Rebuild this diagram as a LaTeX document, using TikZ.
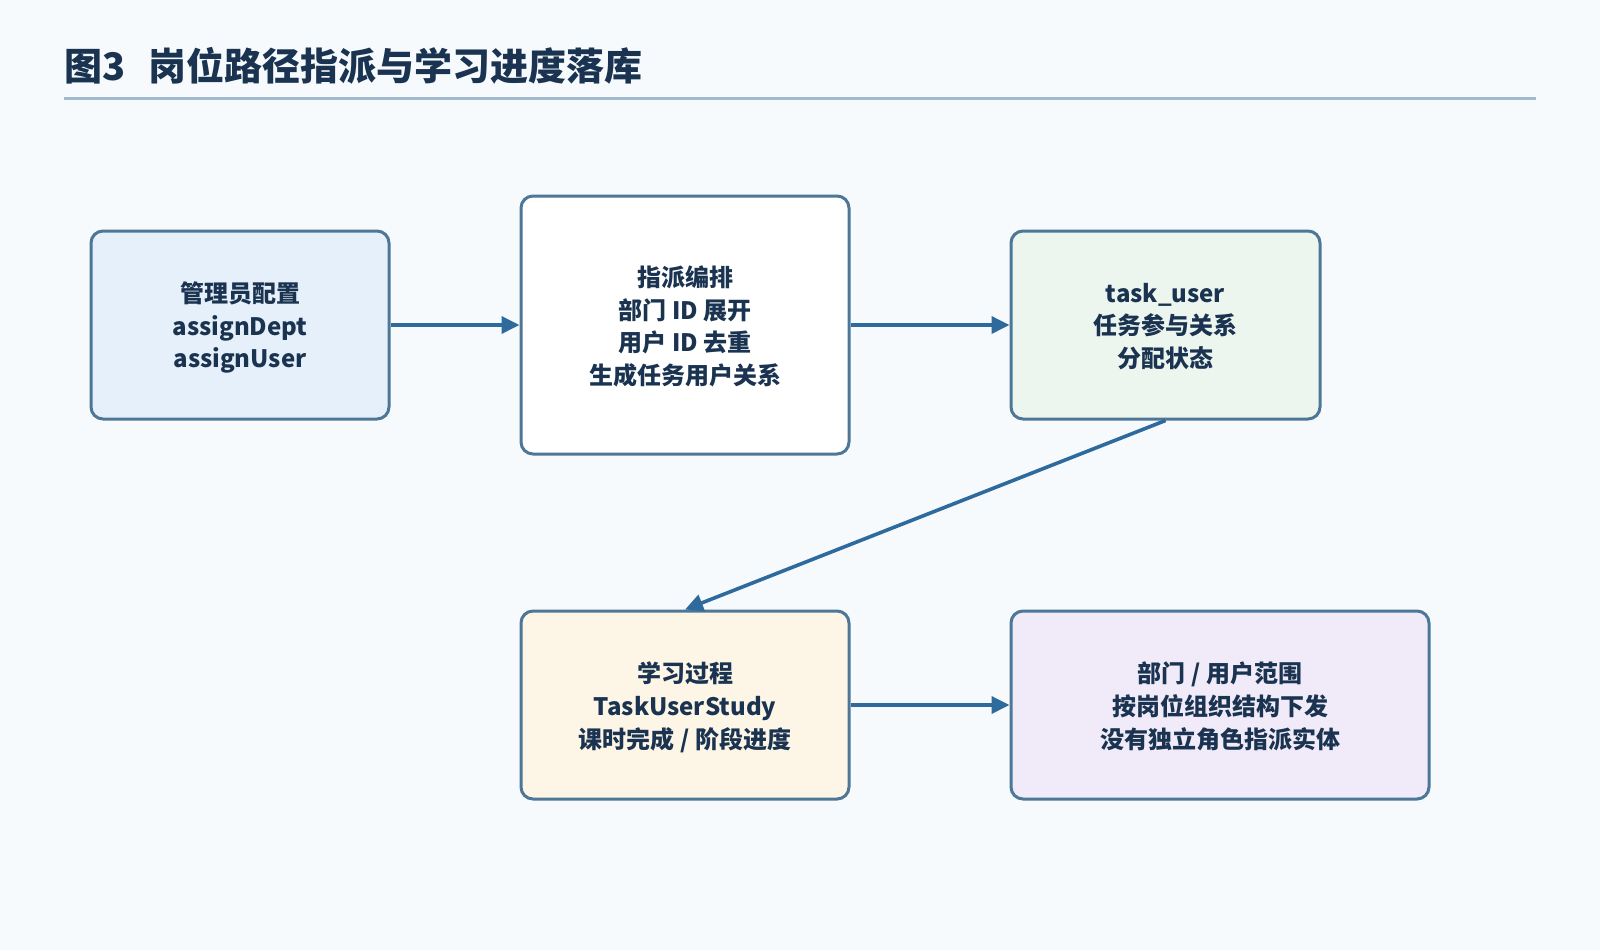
\documentclass[tikz,border=0pt]{standalone}
\usepackage{fontspec}
\setmainfont{Noto Sans CJK SC}
\usetikzlibrary{arrows.meta}
\definecolor{bgc}{HTML}{F6FAFC}
\definecolor{bordc}{HTML}{4E7797}
\definecolor{arrc}{HTML}{2E6B9C}
\definecolor{txtc}{HTML}{1A3350}
\definecolor{rulec}{HTML}{A3B9CF}
\definecolor{fa}{HTML}{E6F0FA}
\definecolor{fb}{HTML}{FFFFFF}
\definecolor{fc}{HTML}{EDF6EE}
\definecolor{fd}{HTML}{FDF6E6}
\definecolor{fe}{HTML}{F1EBF9}
\tikzset{
  boxstyle/.style={draw=bordc, line width=1.5pt, rounded corners=6pt, inner sep=0pt,
    text=txtc, font=\bfseries\fontsize{12pt}{16.3pt}\selectfont, align=center, text depth=-2pt},
  flow/.style={draw=arrc, line width=1.8pt, -{Triangle[length=9pt,width=8.5pt]}},
}
\begin{document}
\begin{tikzpicture}[x=0.5pt,y=-0.5pt]
\fill[bgc] (0,0) rectangle (1600,950);
\useasboundingbox (0,0) rectangle (1600,950);
\node[anchor=base west, text=txtc, font=\bfseries\fontsize{19pt}{21pt}\selectfont, inner sep=0pt] (title) at (64,80) {图3\hspace{0.6em}岗位路径指派与学习进度落库};
\draw[rulec, line width=1.5pt] (64,98) coordinate (r1) -- (1536,98) coordinate (r2);
\node[boxstyle, fill=fa, minimum width=149pt, minimum height=94pt] (a) at (240,325) {管理员配置\\assignDept\\assignUser};
\node[boxstyle, fill=fb, minimum width=164pt, minimum height=129pt] (b) at (685,325) {指派编排\\部门 ID 展开\\用户 ID 去重\\生成任务用户关系};
\node[boxstyle, fill=fc, minimum width=154.5pt, minimum height=94pt] (c) at (1165.5,325) {task\_user\\任务参与关系\\分配状态};
\node[boxstyle, fill=fd, minimum width=164pt, minimum height=94pt] (d) at (685,705) {学习过程\\TaskUserStudy\\课时完成 / 阶段进度};
\node[boxstyle, fill=fe, minimum width=209pt, minimum height=94pt] (e) at (1220,705) {部门 / 用户范围\\按岗位组织结构下发\\没有独立角色指派实体};
\draw[flow] (a.east) -- (b.west);
\draw[flow] (b.east) -- (c.west);
\draw[flow] (c.south) -- (d.north);
\draw[flow] (d.east) -- (e.west);
\end{tikzpicture}
\end{document}
